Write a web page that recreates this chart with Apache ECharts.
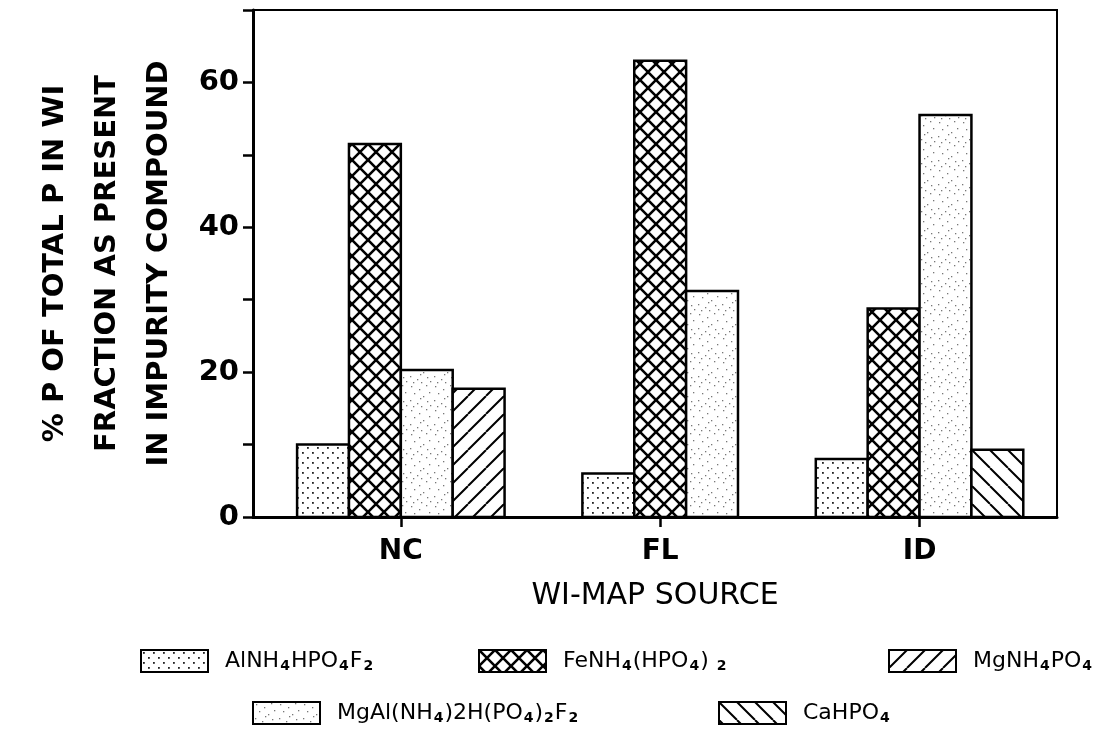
<!DOCTYPE html>
<html>
<head>
<meta charset="utf-8">
<script src="https://cdn.jsdelivr.net/npm/echarts@6/dist/echarts.min.js"></script>
<style>
  html, body { margin: 0; padding: 0; background: #fff; }
  #chart { width: 1096px; height: 747px; }
</style>
</head>
<body>
<div id="chart"></div>
<script>
// data
const sources = ['NC', 'FL', 'ID'];
const compounds = ['AlNH4HPO4F2', 'FeNH4(HPO4)2', 'MgAl(NH4)2H(PO4)2F2', 'MgNH4PO4', 'CaHPO4'];
const alnh4 = [10.0, 6.0, 8.0];
const fenh4 = [51.5, 63.0, 28.8];
const mgal = [20.3, 31.2, 55.5];
const mgnh4 = [17.7, null, null];
const cahpo4 = [null, null, 9.3];
const yTicks = [0, 20, 40, 60];

const values = [alnh4, fenh4, mgal, mgnh4, cahpo4];
const sourceIdx = sources.map(function (s, j) { return j; });

// legend text with subscripts
const legendText = {
  'AlNH4HPO4F2': 'AlNH{s|4}HPO{s|4}F{s|2}',
  'FeNH4(HPO4)2': 'FeNH{s|4}(HPO{s|4}) {s|2}',
  'MgAl(NH4)2H(PO4)2F2': 'MgAl(NH{s|4})2H(PO{s|4}){s|2}F{s|2}',
  'MgNH4PO4': 'MgNH{s|4}PO{s|4}',
  'CaHPO4': 'CaHPO{s|4}'
};

const FONT = 'DejaVu Sans';

// fill patterns
function tile(size, draw) {
  const c = document.createElement('canvas');
  c.width = size; c.height = size;
  const ctx = c.getContext('2d');
  ctx.fillStyle = '#fff';
  ctx.fillRect(0, 0, size, size);
  draw(ctx, size);
  return { image: c, repeat: 'repeat' };
}
const dotFill = tile(10, function (ctx) {
  ctx.fillStyle = '#222';
  ctx.fillRect(2, 2, 1.8, 1.8);
  ctx.fillRect(7, 7, 1.8, 1.8);
});
const crossFill = tile(16, function (ctx, s) {
  ctx.strokeStyle = '#000';
  ctx.lineWidth = 2.6;
  ctx.beginPath();
  ctx.moveTo(-2, -2); ctx.lineTo(s + 2, s + 2);
  ctx.moveTo(-2, s + 2); ctx.lineTo(s + 2, -2);
  ctx.stroke();
});
const stippleFill = tile(24, function (ctx) {
  ctx.fillStyle = '#777';
  const pts = [[3, 2], [11, 5], [18, 1], [6, 9], [15, 12], [21, 8], [2, 16], [9, 19], [19, 17], [13, 22], [5, 22], [22, 21], [12, 14]];
  pts.forEach(function (p) { ctx.fillRect(p[0], p[1], 1.3, 1.3); });
});
const slashFill = tile(18, function (ctx, s) {
  ctx.strokeStyle = '#000';
  ctx.lineWidth = 2;
  ctx.beginPath();
  [-s, 0, s].forEach(function (o) { ctx.moveTo(o, s); ctx.lineTo(o + s, 0); });
  ctx.stroke();
});
const backFill = tile(18, function (ctx, s) {
  ctx.strokeStyle = '#000';
  ctx.lineWidth = 2;
  ctx.beginPath();
  [-s, 0, s].forEach(function (o) { ctx.moveTo(o, 0); ctx.lineTo(o + s, s); });
  ctx.stroke();
});
const fills = [dotFill, crossFill, stippleFill, slashFill, backFill];

const barFrac = 0.2;

// bars of one source sit side by side, centred on the source tick
function renderBar(params, api) {
  const j = api.value(0);
  const v = api.value(1);
  const present = [];
  values.forEach(function (arr, i) { if (arr[j] != null) present.push(i); });
  const k = present.indexOf(params.seriesIndex);
  const n = present.length;
  const unit = api.coord([1, 0])[0] - api.coord([0, 0])[0];
  const w = unit * barFrac;
  const top = api.coord([j, v]);
  const base = api.coord([j, 0]);
  const x0 = top[0] - n * w / 2 + k * w;
  return {
    type: 'rect',
    shape: { x: x0, y: top[1], width: w, height: base[1] - top[1] },
    style: { fill: fills[params.seriesIndex], stroke: '#000', lineWidth: 2.5 }
  };
}

const series = compounds.map(function (name, i) {
  const data = [];
  values[i].forEach(function (v, j) { if (v != null) data.push([j, v]); });
  return {
    name: name,
    type: 'custom',
    renderItem: renderBar,
    encode: { x: 0, y: 1 },
    itemStyle: { color: fills[i], borderColor: '#000', borderWidth: 2 },
    data: data
  };
});

// legend layout: two rows like the original
const legendPos = {
  'AlNH4HPO4F2': { left: 140, top: 649 },
  'FeNH4(HPO4)2': { left: 478, top: 649 },
  'MgNH4PO4': { left: 888, top: 649 },
  'MgAl(NH4)2H(PO4)2F2': { left: 252, top: 701 },
  'CaHPO4': { left: 718, top: 701 }
};
const legends = compounds.map(function (name) {
  return {
    data: [name],
    left: legendPos[name].left,
    top: legendPos[name].top,
    padding: 0,
    icon: 'rect',
    itemWidth: 67,
    itemHeight: 22,
    selectedMode: false,
    itemStyle: { borderColor: '#000', borderWidth: 2 },
    formatter: function (n) { return legendText[n]; },
    textStyle: {
      fontFamily: FONT,
      fontSize: 22,
      color: '#000',
      padding: [0, 0, 0, 12],
      rich: {
        s: { fontSize: 14, fontFamily: FONT, fontWeight: 'bold', color: '#000', padding: [11, 1, 0, 1] }
      }
    }
  };
});

const chart = echarts.init(document.getElementById('chart'));
chart.setOption({
  animation: false,
  backgroundColor: '#fff',
  grid: {
    left: 253, right: 39, top: 10, bottom: 230,
    outerBoundsMode: 'none',
    containLabel: false,
    show: true, borderColor: '#000', borderWidth: 2, backgroundColor: 'transparent'
  },
  xAxis: {
    type: 'value',
    min: -0.57,
    max: 2.53,
    name: 'WI-MAP SOURCE',
    nameLocation: 'middle',
    nameGap: 64,
    nameTextStyle: { fontFamily: FONT, fontSize: 30, color: '#000' },
    splitLine: { show: false },
    axisLine: { onZero: false, lineStyle: { color: '#000', width: 3 } },
    axisTick: { length: 10, customValues: sourceIdx, lineStyle: { color: '#000', width: 2.5 } },
    axisLabel: {
      fontFamily: FONT, fontSize: 28, fontWeight: 'bold', color: '#000', margin: 21,
      customValues: sourceIdx,
      formatter: function (v) { return sources[Math.round(v)]; }
    }
  },
  yAxis: {
    type: 'value',
    min: 0, max: 70, interval: 10,
    name: '% P OF TOTAL P IN WI\nFRACTION AS PRESENT\nIN IMPURITY COMPOUND',
    nameLocation: 'middle',
    nameRotate: 90,
    nameGap: 68,
    nameTextStyle: { fontFamily: FONT, fontSize: 29, fontWeight: 'bold', lineHeight: 52, color: '#000', align: 'center' },
    splitLine: { show: false },
    axisLine: { show: true, onZero: false, lineStyle: { color: '#000', width: 3 } },
    axisTick: { show: true, length: 10, lineStyle: { color: '#000', width: 2.5 } },
    axisLabel: {
      fontFamily: FONT, fontSize: 29, fontWeight: 'bold', color: '#000', margin: 14,
      formatter: function (v) { return yTicks.indexOf(v) >= 0 ? String(v) : ''; }
    }
  },
  legend: legends,
  series: series
});
</script>
</body>
</html>
